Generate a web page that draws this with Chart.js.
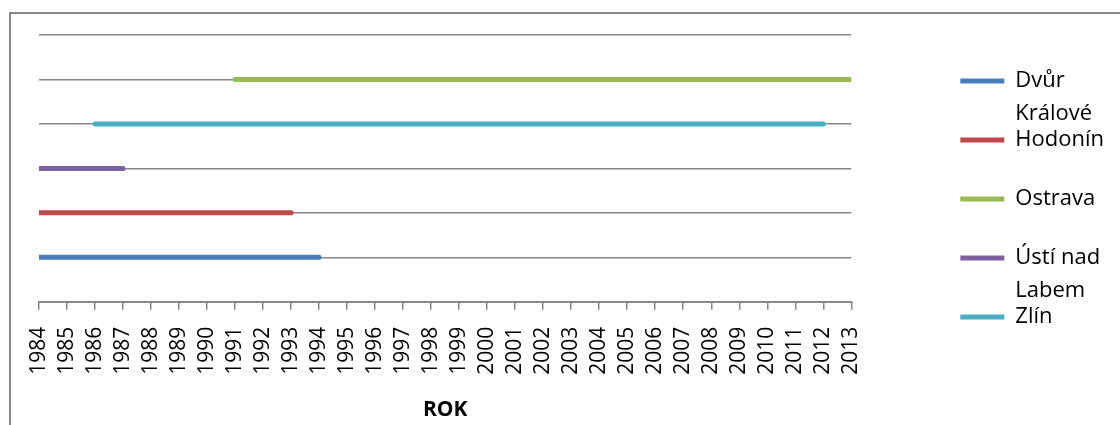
<!DOCTYPE html>
<html>
<head>
<meta charset="utf-8">
<script src="https://cdn.jsdelivr.net/npm/chart.js@4"></script>
<style>
  html, body { margin: 0; padding: 0; background: #fff; }
  #wrap { position: relative; width: 1120px; height: 425px; overflow: hidden; }
  #frame {
    position: absolute; left: 9px; top: 12px; right: -5px; bottom: -5px;
    border-left: 2px solid #878787; border-top: 2px solid #878787;
    pointer-events: none;
  }
</style>
</head>
<body>
<div id="wrap">
  <canvas id="chart" width="1120" height="425"></canvas>
  <div id="frame"></div>
</div>
<script>
const years = ['1984','1985','1986','1987','1988','1989','1990','1991','1992','1993',
  '1994','1995','1996','1997','1998','1999','2000','2001','2002','2003',
  '2004','2005','2006','2007','2008','2009','2010','2011','2012','2013'];

// one row per town, value = row level, null = no data that year
const dvurKralove = [1,1,1,1,1,1,1,1,1,1, 1,null,null,null,null,null,null,null,null,null, null,null,null,null,null,null,null,null,null,null];
const hodonin     = [2,2,2,2,2,2,2,2,2,2, null,null,null,null,null,null,null,null,null,null, null,null,null,null,null,null,null,null,null,null];
const ostrava     = [null,null,null,null,null,null,null,5,5,5, 5,5,5,5,5,5,5,5,5,5, 5,5,5,5,5,5,5,5,5,5];
const ustiNadLabem = [3,3,3,3,null,null,null,null,null,null, null,null,null,null,null,null,null,null,null,null, null,null,null,null,null,null,null,null,null,null];
const zlin        = [null,null,4,4,4,4,4,4,4,4, 4,4,4,4,4,4,4,4,4,4, 4,4,4,4,4,4,4,4,4,null];

// legend text, wrapped the way the legend shows it (two lines per entry)
const seriesNames = [['Dvůr', 'Králové'], ['Hodonín', ''], ['Ostrava', ''], ['Ústí nad', 'Labem'], ['Zlín', '']];
const seriesColors = ['#4A7EBB', '#BE4B48', '#98B954', '#7D60A0', '#4BACC6'];
const seriesData = [dvurKralove, hodonin, ostrava, ustiNadLabem, zlin];

const gridGray = '#878787';
const font = "'Open Sans', 'Liberation Sans', sans-serif";

const ctx = document.getElementById('chart').getContext('2d');
new Chart(ctx, {
  type: 'line',
  data: {
    labels: years,
    datasets: seriesData.map((d, i) => ({
      label: seriesNames[i].join(' ').trim(),
      data: d,
      borderColor: seriesColors[i],
      backgroundColor: seriesColors[i],
      borderWidth: 5,
      borderCapStyle: 'round',
      pointRadius: 0,
      fill: false,
      clip: 0
    }))
  },
  options: {
    responsive: false,
    animation: false,
    layout: { padding: { left: 39, top: 35, right: 6, bottom: 2 } },
    plugins: {
      legend: {
        position: 'right',
        align: 'start',
        // empty title only pushes the entries down
        title: { display: true, text: '', font: { size: 1, lineHeight: 0 }, padding: { top: 42, bottom: 0 } },
        labels: {
          color: '#000',
          font: { family: font, size: 22, lineHeight: '33px' },
          boxWidth: 51,
          boxHeight: 5,
          padding: -7,
          generateLabels: (chart) => chart.data.datasets.map((ds, i) => ({
            text: seriesNames[i],
            fillStyle: seriesColors[i],
            strokeStyle: seriesColors[i],
            fontColor: '#000',
            lineWidth: 0,
            datasetIndex: i
          }))
        }
      },
      tooltip: { enabled: false }
    },
    scales: {
      x: {
        grid: { display: true, drawOnChartArea: false, drawTicks: true, tickLength: 8, color: gridGray, lineWidth: 1.5 },
        border: { color: gridGray, width: 2 },
        ticks: {
          color: '#000',
          font: { family: font, size: 21 },
          minRotation: 90,
          maxRotation: 90,
          autoSkip: false,
          padding: 17
        },
        title: {
          display: true,
          text: 'ROK',
          color: '#000',
          font: { family: font, size: 21, weight: 'bold' },
          padding: { top: 6, bottom: 0 }
        }
      },
      y: {
        min: 0,
        max: 6,
        grid: { color: gridGray, lineWidth: 1.5, drawTicks: false },
        border: { display: false },
        ticks: { display: false, stepSize: 1 }
      },
      // blank axis on the right keeps room between the plot and the legend
      gap: {
        position: 'right',
        grid: { display: false },
        border: { display: false },
        ticks: { display: false },
        afterFit: (scale) => { scale.width = 109; }
      }
    }
  }
});
</script>
</body>
</html>
